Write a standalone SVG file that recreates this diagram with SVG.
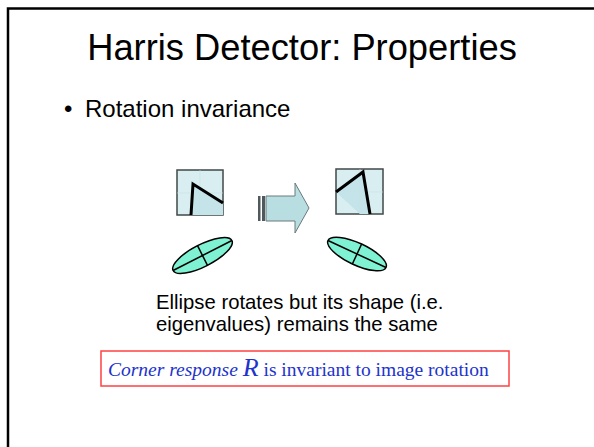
<svg xmlns="http://www.w3.org/2000/svg" width="594" height="447" viewBox="0 0 594 447">
<defs>
<style>
.sans{font-family:"Liberation Sans",Arial,sans-serif;fill:#000}
.serif{font-family:"Liberation Serif","Times New Roman",serif;fill:#2233cc}
.sq{fill:#d9eef1;stroke:#404848;stroke-width:1.5}
.shade{fill:#c4e4ea}
.grid{stroke:#c8e2e6;stroke-width:0.6}
.corner{fill:none;stroke:#000;stroke-width:3;stroke-linejoin:miter}
.ell{fill:#80f2d4;stroke:#000;stroke-width:1.5}
.ax{stroke:#000;stroke-width:1.5}
</style>
</defs>
<rect width="594" height="447" fill="#fff"/>
<path d="M8 447 V8.5 H594" fill="none" stroke="#000" stroke-width="2.5"/>
<text class="sans" x="302" y="60" font-size="36.3" text-anchor="middle">Harris Detector: Properties</text>
<g id="bullet">
<text class="sans" x="64" y="117" font-size="24">•</text>
<text class="sans" x="85" y="117" font-size="24">Rotation invariance</text>
</g>
<g id="square-left">
<rect class="sq" x="177" y="170" width="46" height="45"/>
<polygon class="shade" points="193,184 223,203 223,215 191,215"/>
<line class="grid" x1="200" y1="170" x2="200" y2="215"/>
<line class="grid" x1="177" y1="193" x2="223" y2="193"/>
<polyline class="corner" points="191,215 193,184 223,203"/>
</g>
<g id="arrow">
<polygon points="266,196 295,196 295,183 309,208 295,233 295,221 266,221" fill="#b8dee2" stroke="#6a7a7c" stroke-width="1"/>
<rect x="258" y="196" width="2.5" height="25" fill="#505a5c"/>
<rect x="262" y="196" width="3" height="25" fill="#505a5c"/>
</g>
<g id="square-right">
<rect class="sq" x="336" y="169" width="47" height="45"/>
<polygon class="shade" points="336,192 363,172 370,214 360,214"/>
<line class="grid" x1="360" y1="169" x2="360" y2="214"/>
<line class="grid" x1="336" y1="192" x2="383" y2="192"/>
<polyline class="corner" points="336,192 363,172 370,214"/>
</g>
<g id="ellipse-left" transform="translate(202.5,255.5) rotate(-27)">
<ellipse class="ell" cx="0" cy="0" rx="33" ry="11"/>
<line class="ax" x1="-33" y1="0" x2="33" y2="0"/>
<line class="ax" x1="0" y1="-11" x2="0" y2="11"/>
</g>
<g id="ellipse-right" transform="translate(357,254) rotate(25)">
<ellipse class="ell" cx="0" cy="0" rx="32" ry="11"/>
<line class="ax" x1="-32" y1="0" x2="32" y2="0"/>
<line class="ax" x1="0" y1="-11" x2="0" y2="11"/>
</g>
<g id="caption">
<text class="sans" x="156" y="309" font-size="20.3">Ellipse rotates but its shape (i.e.</text>
<text class="sans" x="156" y="331" font-size="20.3">eigenvalues) remains the same</text>
</g>
<g id="box">
<rect x="101" y="351" width="408" height="35" fill="none" stroke="#ff4040" stroke-width="1.5"/>
<text class="serif" x="108" y="376" font-size="19.5"><tspan font-style="italic">Corner response </tspan><tspan font-style="italic" font-size="26">R</tspan> is invariant to image rotation</text>
</g>
</svg>
